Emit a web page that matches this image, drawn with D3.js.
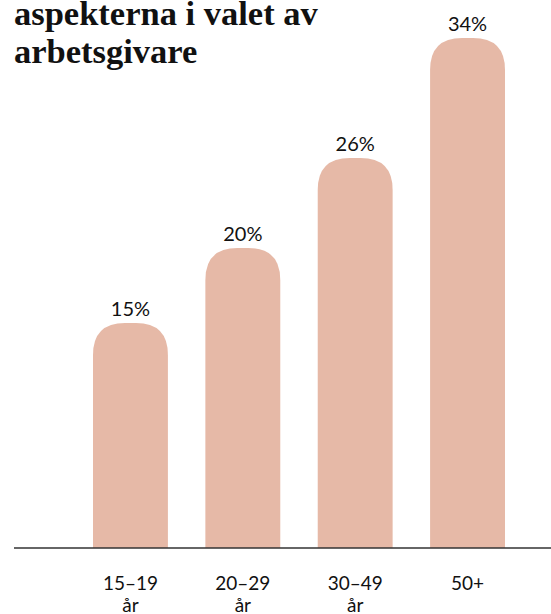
<!DOCTYPE html>
<html><head><meta charset="utf-8">
<script src="https://cdn.jsdelivr.net/npm/d3@7"></script>
<style>body{margin:0;background:#fff}svg{display:block}</style>
</head><body>
<script>
const titleLines = ["aspekterna i valet av", "arbetsgivare"];
const categories = ["15–19 år", "20–29 år", "30–49 år", "50+"];
const values = [15, 20, 26, 34];
const valueLabels = ["15%", "20%", "26%", "34%"];

const W = 551, H = 614;
const svg = d3.select("body").append("svg").attr("width", W).attr("height", H);

// title (its top lines fall above the viewport, as in the reference)
svg.append("g").selectAll("text").data(titleLines).join("text")
  .attr("x", 14).attr("y", (d, i) => 25 + i * 38)
  .attr("font-family", "Liberation Serif, serif").attr("font-weight", "bold")
  .attr("font-size", 34.5).attr("fill", "#111").text(d => d);

const baseY = 548;
const x = d3.scaleBand().domain(categories).range([93, 505]).paddingInner(1/3).paddingOuter(0);
const y = d3.scaleLinear().domain([0, 34]).range([baseY, 38]);

function topRounded(x0, y0, w, h, r) {
  r = Math.min(r, w / 2, h);
  const p = d3.path();
  p.moveTo(x0, y0 + h);
  p.lineTo(x0, y0 + r);
  p.quadraticCurveTo(x0, y0, x0 + r, y0);
  p.lineTo(x0 + w - r, y0);
  p.quadraticCurveTo(x0 + w, y0, x0 + w, y0 + r);
  p.lineTo(x0 + w, y0 + h);
  p.closePath();
  return p.toString();
}

svg.append("g").selectAll("path").data(values).join("path")
  .attr("d", (d, i) => topRounded(x(categories[i]), y(d), x.bandwidth(), baseY - y(d), 32))
  .attr("fill", "#e6b9a7");

svg.append("g").selectAll("text").data(values).join("text")
  .attr("x", (d, i) => x(categories[i]) + x.bandwidth() / 2)
  .attr("y", d => y(d) - 7)
  .attr("text-anchor", "middle")
  .attr("font-family", "Lato, sans-serif").attr("font-size", 20).attr("fill", "#111")
  .text((d, i) => valueLabels[i]);

// x axis
const xAxis = d3.axisBottom(x).tickSize(0).tickPadding(0);
const gx = svg.append("g").attr("transform", `translate(0,${baseY})`).call(xAxis);
gx.select(".domain").remove();
svg.append("line").attr("x1", 14).attr("x2", W).attr("y1", baseY).attr("y2", baseY)
  .attr("stroke", "#333").attr("stroke-width", 1.5);
gx.selectAll(".tick text").each(function(d) {
  const t = d3.select(this);
  t.text(null).attr("y", 0).attr("dy", null)
    .attr("font-family", "Lato, sans-serif").attr("font-size", 19).attr("fill", "#111");
  const parts = d.match(/^(.*) (år)$/);
  const lines = parts ? [parts[1], parts[2]] : [d];
  lines.forEach((l, i) => t.append("tspan").attr("x", 0).attr("y", 42 + i * 22).text(l));
});
</script>
</body></html>
